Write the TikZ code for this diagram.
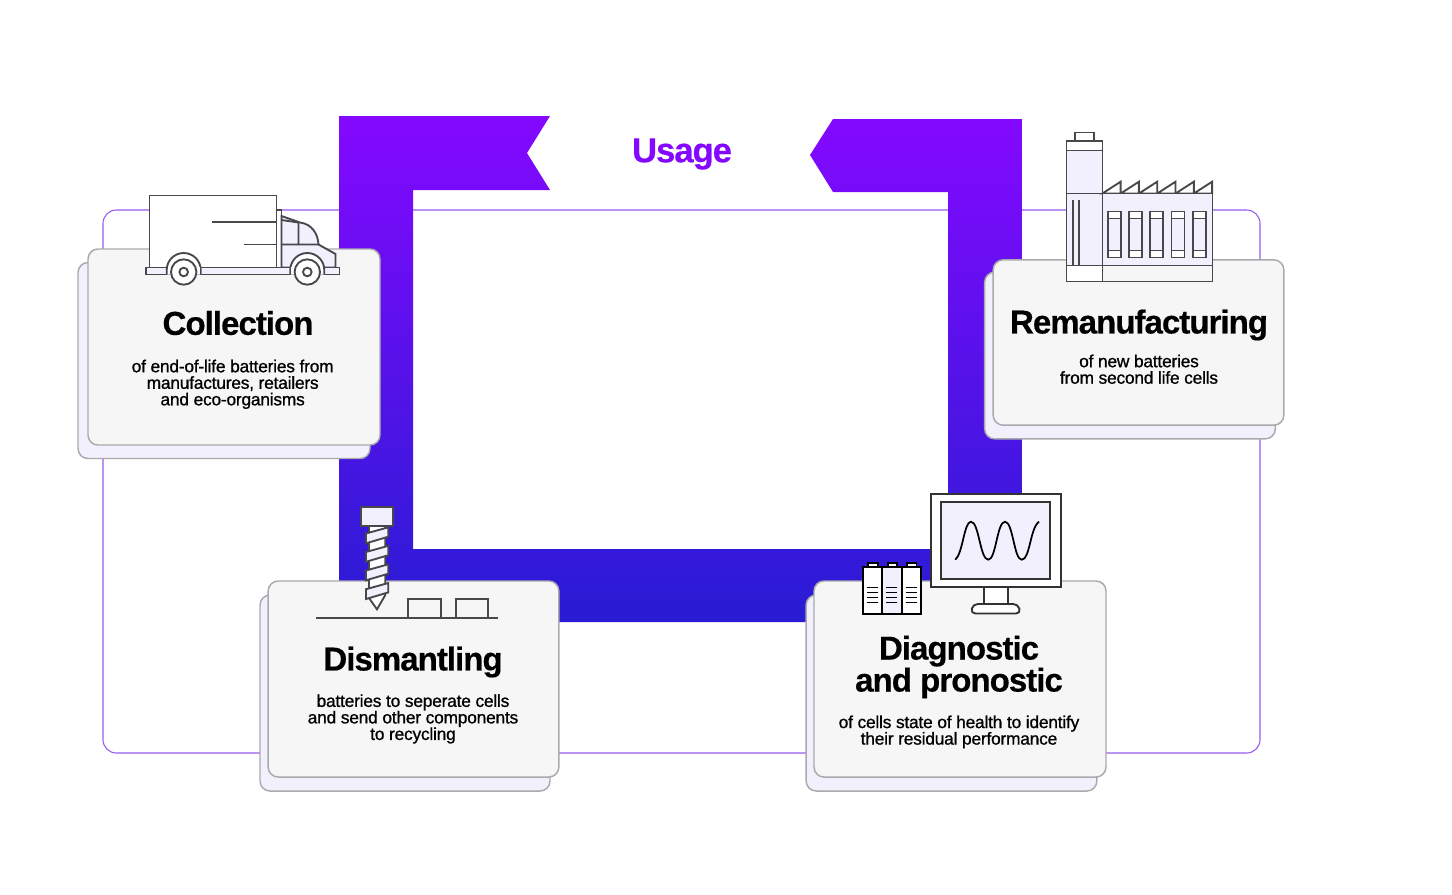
\documentclass[tikz,border=0pt]{standalone}
\usepackage{xcolor}
\usepackage{fontspec}
\usepackage{tikz}
\usetikzlibrary{positioning}
\setmainfont{Liberation Sans}
\newfontfamily\headfont[LetterSpace=-3.0,FakeBold=0.4]{Liberation Sans}
\newfontfamily\bodyfont[LetterSpace=-1.2,FakeBold=0.9]{Liberation Sans}
\definecolor{mypurple}{RGB}{132,8,255}
\definecolor{myblue}{RGB}{40,28,212}
\definecolor{myframe}{RGB}{150,90,240}
\definecolor{mydark}{RGB}{72,72,76}
\definecolor{mylav}{RGB}{242,240,253}
\definecolor{hdrcard}{RGB}{246,246,247}
\definecolor{hdredge}{RGB}{170,170,174}
\tikzset{
  card/.style={rectangle, draw=hdredge, fill=hdrcard, rounded corners=7.5pt,
    line width=1.1pt, inner sep=0pt, outer sep=0pt},
  backcard/.style={rectangle, draw=hdredge, fill=mylav, rounded corners=7.5pt,
    line width=1.1pt, inner sep=0pt, outer sep=0pt},
  headtext/.style={font=\headfont\bfseries\fontsize{24.8}{24}\selectfont,
    align=center, inner sep=0pt, text=black},
  bodytext/.style={font=\bodyfont\fontsize{13}{12.4}\selectfont,
    align=center, inner sep=0pt, text=black},
  icon/.style={draw=mydark, line width=1.4pt, line join=miter},
  iconlav/.style={icon, fill=mylav},
  iconwht/.style={icon, fill=white},
  blackicon/.style={draw=black, line width=1.4pt}
}

\begin{document}
\begin{tikzpicture}[x=0.75pt, y=-0.75pt]
  \useasboundingbox (0,0) rectangle (1452,894);
  % frame and band
  \draw[myframe, line width=0.8pt, rounded corners=10pt] (103,210) rectangle (1260,753);
  \path[top color=mypurple, middle color=mypurple, bottom color=myblue]
    (339,116) -- (550,116) -- (527,153) -- (550,190) -- (413,190) -- (413,549)
    -- (948,549) -- (948,192) -- (833,192) -- (810,155) -- (833,119) -- (1022,119)
    -- (1022,622) -- (339,622) -- cycle;
  \node[font=\headfont\bfseries\fontsize{26}{24}\selectfont, text=mypurple, inner sep=0pt] (usage) at (682,154) {Usage};

  % cards
  \node[backcard, minimum width=219pt, minimum height=147pt] (collectback) at (224,360.5) {};
  \node[card, minimum width=219pt, minimum height=147pt] (collect) at (234,347) {};
  \node[backcard, minimum width=218pt, minimum height=125pt] (remanback) at (1130,355.5) {};
  \node[card, minimum width=218pt, minimum height=124pt] (reman) at (1138.5,342.5) {};
  \node[backcard, minimum width=217.5pt, minimum height=147pt] (dismantback) at (405,693) {};
  \node[card, minimum width=218pt, minimum height=147pt] (dismant) at (413.5,679) {};
  \node[backcard, minimum width=218pt, minimum height=147pt] (diagback) at (951.5,693) {};
  \node[card, minimum width=219pt, minimum height=147pt] (diag) at (960,679) {};

  % card texts
  \node[headtext] (collecthead) at (238,323) {Collection};
  \node[bodytext, below=18pt of collecthead, xshift=-4pt] (collectbody) {of end-of-life batteries from\\manufactures, retailers\\and eco-organisms};
  \node[headtext] (remanhead) at (1139,325) {Remanufacturing};
  \node[bodytext, below=10.2pt of remanhead] (remanbody) {of new batteries\\from second life cells};
  \node[headtext] (dismanthead) at (413,662) {Dismantling};
  \node[bodytext, below=12.2pt of dismanthead] (dismantbody) {batteries to seperate cells\\and send other components\\to recycling};
  \node[headtext] (diaghead) at (959,667) {Diagnostic\\and pronostic};
  \node[bodytext, below=12.4pt of diaghead] (diagbody) {of cells state of health to identify\\their residual performance};

  % truck
  \draw[iconwht] (149.5,195.5) rectangle (276.5,267.5);
  \draw[icon] (211.5,222) -- (276.5,222) (244,244.5) -- (276.5,244.5);
  \draw[iconwht] (276.5,210) rectangle (281.5,267.5);
  \draw[iconlav] (281.5,216) -- (300,222.5) .. controls (312,224) and (318,234) .. (318.5,244.5)
    -- (335.5,254) -- (335.5,267.5) -- (281.5,267.5) -- cycle;
  \draw[icon] (298.5,222.5) -- (298.5,244.5) (281.5,244.5) -- (318.5,244.5) (281.5,220) -- (298.5,222.5);
  \draw[iconlav] (146,267.5) rectangle (339.5,274.5);
  \foreach \wx in {183.7,307.3} {
    \draw[iconwht] (\wx-17,274.5) -- (\wx-17,270) arc[start angle=180, end angle=360, radius=17] -- (\wx+17,274.5);
    \fill[white] (\wx-16,267) rectangle (\wx+16,274);
    \draw[iconwht] (\wx,272) circle (12.7);
    \draw[iconwht] (\wx,272) circle (4.3);
  }

  % factory
  \draw[iconwht] (1075,132.5) rectangle (1094,141);
  \draw[iconwht] (1066.5,141) rectangle (1102.5,150.5);
  \draw[iconlav] (1066.5,150.5) rectangle (1102.5,193.5);
  \draw[iconlav] (1066.5,193.5) rectangle (1102.5,265.5);
  \draw[iconwht] (1066.5,265.5) rectangle (1102.5,281.5);
  \draw[icon] (1072.7,200) -- (1072.7,265.5) (1079.3,200) -- (1079.3,265.5);
  \foreach \rx in {1102.3,1120.6,1138.9,1157.2,1175.5,1193.8} {
    \draw[iconwht] (\rx,193.5) -- (\rx+18.3,181.7) -- (\rx+18.3,193.5) -- cycle;
  }
  \draw[iconlav] (1102.5,193.5) rectangle (1212.5,265.5);
  \draw[icon, fill=hdrcard] (1102.5,265.5) rectangle (1212.5,281.5);
  \foreach \wx in {1108.3,1129.3,1150.3,1171.5,1192.7} {
    \draw[iconlav] (\wx,211.5) rectangle (\wx+13,257.5);
    \draw[iconwht] (\wx,211.5) rectangle (\wx+13,218.5);
    \draw[iconwht] (\wx,250.5) rectangle (\wx+13,257.5);
  }

  % screw
  \draw[iconwht] (369,525) -- (369,598) -- (377,609.3) -- (385.3,595) -- (385.3,525);
  \draw[iconlav] (360.7,507.3) rectangle (393.3,525.7);
  \foreach \ty in {0,18.5,37,55.7} {
    \draw[iconlav] (366,533.5+\ty) -- (388.3,527.3+\ty) -- (388.3,536.7+\ty) -- (366,543.3+\ty) -- cycle;
  }
  \draw[icon] (316,617.7) -- (498.3,617.7);
  \draw[icon] (408.3,617.7) -- (408.3,599.3) -- (441,599.3) -- (441,617.7);
  \draw[icon] (455.7,617.7) -- (455.7,599.3) -- (488.3,599.3) -- (488.3,617.7);

  % batteries
  \foreach \bx in {863,882.4,901.8} {
    \draw[blackicon, fill=white] (\bx+5.4,562.7) rectangle (\bx+14.7,567);
  }
  \draw[blackicon, fill=white] (863,567) rectangle (882.4,614.3);
  \draw[blackicon, fill=mylav] (882.4,567) rectangle (901.8,614.3);
  \draw[blackicon, fill=white] (901.8,567) rectangle (921.3,614.3);
  \foreach \bx in {867.3,886.3,905.6} {
    \foreach \sy in {587.3,592.3,597.7,602.7} {
      \draw[black, line width=1.1pt] (\bx,\sy) -- (\bx+11,\sy);
    }
  }

  % monitor
  \draw[icon, draw=black!80, fill=white] (983.7,587.3) rectangle (1007.7,604);
  \draw[icon, draw=black!80, fill=white, rounded corners=3.5pt] (970.7,613.5) -- (973,604) -- (1018,604) -- (1020.7,613.5) -- cycle;
  \draw[icon, draw=black!80, fill=white] (930.7,493.7) rectangle (1060.7,587.3);
  \draw[icon, draw=black!80, fill=mylav] (941,502) rectangle (1050,579.3);
  \draw[black, line width=1.3pt] (955.3,559.7) .. controls (963,553) and (964,521.7) .. (971,521.7)
    .. controls (979,521.7) and (980,559.7) .. (988.3,559.7)
    .. controls (996,559.7) and (997,521.7) .. (1005,521.7)
    .. controls (1013,521.7) and (1014,559.7) .. (1021.7,559.7)
    .. controls (1030,559.7) and (1030,528) .. (1039,521.7);
\end{tikzpicture}
\end{document}
